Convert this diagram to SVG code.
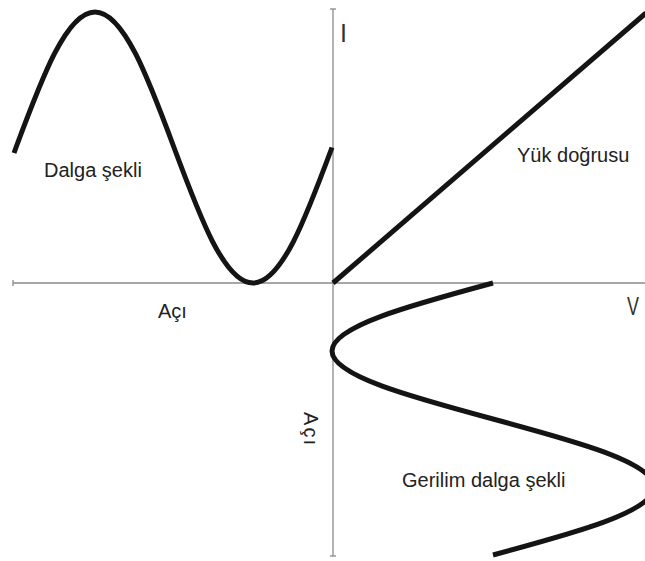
<svg xmlns="http://www.w3.org/2000/svg" width="645" height="561" viewBox="0 0 645 561">
  <style>
    .axis { stroke: #8a8a8a; stroke-width: 1.3; fill: none; }
    .curve { stroke: #141414; stroke-width: 5; fill: none; stroke-linecap: butt; stroke-linejoin: round; }
    .lbl { font-family: "Liberation Sans", Arial, sans-serif; font-size: 20px; fill: #222; }
    .ax { font-family: "Liberation Sans", Arial, sans-serif; font-size: 25px; fill: #333; }
  </style>
  <rect width="645" height="561" fill="#ffffff"/>
  <g id="axes">
    <line class="axis" x1="13" y1="283" x2="645" y2="283"/>
    <line class="axis" x1="13" y1="280" x2="13" y2="286"/>
    <line class="axis" x1="333" y1="9" x2="333" y2="556"/>
    <line class="axis" x1="330" y1="9" x2="336" y2="9"/>
    <line class="axis" x1="330" y1="556" x2="336" y2="556"/>
  </g>
  <g id="waveform">
    <path class="curve" d="M14,153 L16,147.5 C41.8,78.1 66.4,12 95,12 C123.6,12 148.2,78.1 174,147.5 C199.8,216.9 224.4,283 253,283 C281.6,283 306.2,216.9 332,147.5"/>
  </g>
  <g id="load-line">
    <line class="curve" x1="333" y1="283" x2="646" y2="13"/>
  </g>
  <g id="voltage-waveform">
    <path class="curve" d="M493,283 C410.6,305.2 332,326.4 332,351 C332,375.6 410.6,396.8 493,419 C575.4,441.2 654,462.4 654,487 C654,511.6 575.4,532.8 493,555"/>
  </g>
  <g id="labels">
    <text class="lbl" x="44" y="177">Dalga şekli</text>
    <text class="lbl" x="517" y="162">Yük doğrusu</text>
    <text class="lbl" x="402" y="487">Gerilim dalga şekli</text>
    <text class="lbl" x="158" y="318">Açı</text>
    <text class="lbl" transform="translate(304 412) rotate(90)" textLength="33" lengthAdjust="spacing">Açı</text>
    <text class="ax" x="340" y="42">I</text>
    <text class="ax" x="627" y="315" textLength="12" lengthAdjust="spacingAndGlyphs">V</text>
  </g>
</svg>
